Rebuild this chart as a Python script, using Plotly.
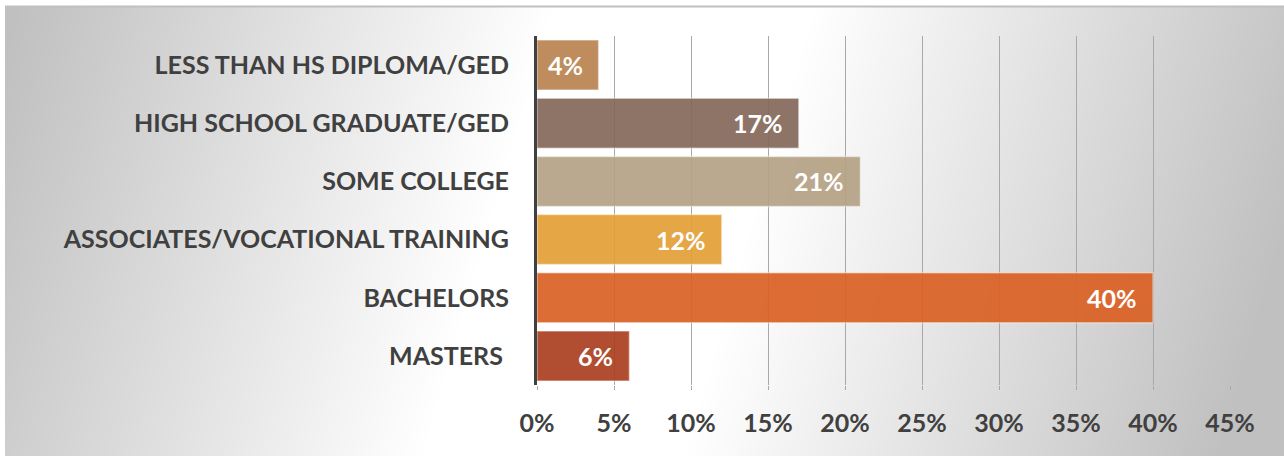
import plotly.graph_objects as go

# Education attainment shares
categories = [
    "LESS THAN HS DIPLOMA/GED",
    "HIGH SCHOOL GRADUATE/GED",
    "SOME COLLEGE",
    "ASSOCIATES/VOCATIONAL TRAINING",
    "BACHELORS",
    "MASTERS\u00a0",
]
shares = [0.04, 0.17, 0.21, 0.12, 0.40, 0.06]
bar_colors = ["#B98350", "#85695A", "#B5A285", "#E39F37", "#DA6124", "#AB3E1F"]
x_ticks = [0, 0.05, 0.10, 0.15, 0.20, 0.25, 0.30, 0.35, 0.40, 0.45]

W, H = 1284, 456
FONT = "Lato"
FS = 25
TEXT_DARK = "#404040"


def px(x, y):
    """Pixel position -> paper coordinates."""
    return x / W, 1 - y / H


# Backdrop: a slanted white band in the middle fading to grey at both sides,
# painted as nested bands from darkest (outermost) to lightest.
def band_path(half_width):
    top_c = 680.0 + 0.29 * 20
    bot_c = 680.0 - 0.29 * (H - 20)
    pts = [
        px(top_c - half_width, 0), px(top_c + half_width, 0),
        px(bot_c + half_width, H), px(bot_c - half_width, H),
    ]
    return "M " + " L ".join(f"{a:.5f},{b:.5f}" for a, b in pts) + " Z"


shapes = [dict(type="rect", xref="paper", yref="paper", x0=0, x1=1, y0=0, y1=1,
               fillcolor="rgb(192,192,192)", line=dict(width=0), layer="below")]
for k in range(62, -1, -1):
    half = ((k + 0.5) / 75 + 0.2) * 640
    g = 255 - k
    shapes.append(dict(type="path", xref="paper", yref="paper", path=band_path(half),
                       fillcolor=f"rgb({g},{g},{g})", line=dict(width=0), layer="below"))

# white frame on the left and top, plus thin grey top rule
shapes += [
    dict(type="rect", xref="paper", yref="paper", x0=0, x1=5 / W, y0=0, y1=1,
         fillcolor="white", line=dict(width=0), layer="below"),
    dict(type="rect", xref="paper", yref="paper", x0=0, x1=1, y0=1 - 6 / H, y1=1,
         fillcolor="white", line=dict(width=0), layer="below"),
    dict(type="line", xref="paper", yref="paper", x0=5 / W, x1=1,
         y0=1 - 6.5 / H, y1=1 - 6.5 / H, line=dict(color="#c0c0c0", width=2),
         layer="below"),
]

fig = go.Figure()
fig.add_trace(go.Bar(
    x=shares, y=categories, orientation="h",
    marker=dict(color=bar_colors, opacity=0.92,
                line=dict(color="rgba(255,255,255,0.45)", width=1.5)),
    hoverinfo="skip",
))

for cat, val in zip(categories, shares):
    fig.add_annotation(
        x=val, y=cat, xref="x", yref="y", text=f"{val:.0%}",
        showarrow=False, xanchor="right", xshift=-14,
        font=dict(family=FONT, size=FS, color="white", weight="bold"),
    )

fig.update_layout(
    width=W, height=H,
    margin=dict(l=0, r=0, t=0, b=0, pad=0),
    paper_bgcolor="white", plot_bgcolor="rgba(0,0,0,0)",
    showlegend=False, bargap=0.14,
    xaxis=dict(
        domain=[537 / W, 1230 / W], range=[0, 0.45], automargin=False,
        tickvals=x_ticks, tickformat=".0%",
        showgrid=True, gridcolor="#a8a8a8", gridwidth=1, zeroline=False,
        ticks="outside", ticklen=4, tickcolor="#a8a8a8",
        ticklabelstandoff=12,
        tickfont=dict(family=FONT, size=FS, color=TEXT_DARK, weight="bold"),
    ),
    yaxis=dict(
        domain=[71 / H, 420 / H], autorange="reversed", automargin=False,
        showline=True, linecolor=TEXT_DARK, linewidth=3,
        showgrid=False, ticks="", ticklabelstandoff=20,
        tickfont=dict(family=FONT, size=FS, color=TEXT_DARK, weight="bold"),
    ),
    shapes=shapes,
)

fig.write_html("out.html")
